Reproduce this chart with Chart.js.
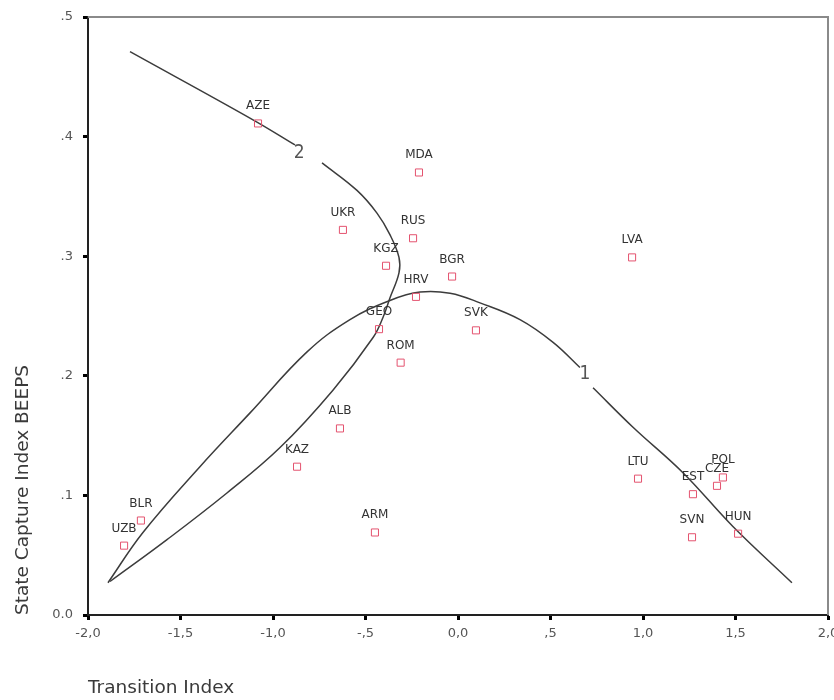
<!DOCTYPE html>
<html>
<head>
<meta charset="utf-8">
<script src="https://cdn.jsdelivr.net/npm/chart.js@4/dist/chart.umd.min.js"></script>
<style>
  html, body { margin: 0; padding: 0; background: #fff; }
  canvas { display: block; }
</style>
</head>
<body>
<canvas id="c" width="834" height="700"></canvas>
<script>
// ---- Data ----
const countryCodes = ['AZE','MDA','UKR','RUS','KGZ','BGR','LVA','HRV','GEO','SVK','ROM','ALB','KAZ','ARM','BLR','UZB','LTU','EST','CZE','POL','SVN','HUN'];
const transitionIndex = [-1.081,-0.211,-0.622,-0.243,-0.389,-0.032,0.941,-0.227,-0.427,0.097,-0.310,-0.638,-0.870,-0.449,-1.714,-1.805,0.973,1.270,1.400,1.432,1.265,1.514];
const stateCapture   = [0.411,0.370,0.322,0.315,0.292,0.283,0.299,0.266,0.239,0.238,0.211,0.156,0.124,0.069,0.079,0.058,0.114,0.101,0.108,0.115,0.065,0.068];

// fitted curve 1 (inverted U), null = gap for the curve label
const fit1X = [-1.892,-1.703,-1.395,-1.124,-0.816,-0.584,-0.368,-0.205,-0.043,0.119,0.335,0.514,0.659,0.700,0.730,0.946,1.216,1.486,1.805];
const fit1Y = [0.027,0.069,0.124,0.169,0.220,0.247,0.263,0.270,0.269,0.261,0.247,0.228,0.207,null,0.190,0.157,0.119,0.074,0.027];

// fitted curve 2 (sideways), null = gap for the curve label
const fit2X = [-1.773,-1.108,-0.881,-0.810,-0.735,-0.546,-0.438,-0.368,-0.319,-0.319,-0.368,-0.405,-0.459,-0.676,-0.962,-1.249,-1.573,-1.881];
const fit2Y = [0.471,0.414,0.393,null,0.378,0.355,0.336,0.318,0.299,0.286,0.265,0.249,0.232,0.188,0.140,0.102,0.063,0.028];

const curveLabels = ['1','2'];
const curveLabelX = [0.686,-0.859];
const curveLabelY = [0.2015,0.386];

const xTickValues = [-2,-1.5,-1,-0.5,0,0.5,1,1.5,2];
const xTickLabels = ['-2,0','-1,5','-1,0','-,5','0,0',',5','1,0','1,5','2,0'];
const yTickValues = [0,0.1,0.2,0.3,0.4,0.5];
const yTickLabels = ['0.0','.1','.2','.3','.4','.5'];

const xTitle = 'Transition Index';
const yTitle = 'State Capture Index BEEPS';

// ---- Build chart ----
Chart.defaults.font.family = "'DejaVu Sans', Verdana, sans-serif";
Chart.defaults.color = '#444';

const countryPoints = countryCodes.map((c, i) => ({x: transitionIndex[i], y: stateCapture[i]}));
const fit1 = fit1X.map((x, i) => ({x: x, y: fit1Y[i]}));
const fit2 = fit2X.map((x, i) => ({x: x, y: fit2Y[i]}));

function nearestLabel(values, labels, v) {
  for (let i = 0; i < values.length; i++) if (Math.abs(values[i] - v) < 1e-6) return labels[i];
  return '';
}

const framePlugin = {
  id: 'frame',
  beforeDatasetsDraw(chart) {
    const {ctx, chartArea: a} = chart;
    ctx.save();
    ctx.strokeStyle = '#8a8a8a';
    ctx.lineWidth = 2;
    ctx.beginPath();
    ctx.moveTo(a.left, a.top);
    ctx.lineTo(a.right, a.top);
    ctx.lineTo(a.right, a.bottom);
    ctx.stroke();
    ctx.restore();
  }
};

const labelPlugin = {
  id: 'pointLabels',
  afterDatasetsDraw(chart) {
    const {ctx} = chart;
    const meta = chart.getDatasetMeta(0);
    ctx.save();
    ctx.font = "12px 'DejaVu Sans', sans-serif";
    ctx.fillStyle = '#333';
    ctx.textAlign = 'center';
    ctx.textBaseline = 'alphabetic';
    meta.data.forEach((pt, i) => {
      ctx.fillText(countryCodes[i], pt.x, pt.y - 14);
    });
    const xs = chart.scales.x, ys = chart.scales.y;
    ctx.font = "300 19px 'Liberation Sans Narrow', 'DejaVu Sans Condensed', sans-serif";
    ctx.fillStyle = '#555';
    ctx.textBaseline = 'middle';
    curveLabels.forEach((t, i) => {
      ctx.fillText(t, xs.getPixelForValue(curveLabelX[i]), ys.getPixelForValue(curveLabelY[i]));
    });
    ctx.restore();
  }
};

new Chart(document.getElementById('c'), {
  type: 'scatter',
  data: {
    datasets: [
      {
        label: 'Countries',
        data: countryPoints,
        pointStyle: 'rect',
        pointRadius: 5,
        pointHoverRadius: 5,
        borderColor: '#e4536f',
        backgroundColor: 'rgba(0,0,0,0)',
        borderWidth: 1,
        order: 0
      },
      {
        label: 'Fit 1',
        data: fit1,
        showLine: true,
        pointRadius: 0,
        borderColor: '#3c3c3c',
        borderWidth: 1.5,
        tension: 0.4,
        spanGaps: false,
        fill: false,
        order: 1
      },
      {
        label: 'Fit 2',
        data: fit2,
        showLine: true,
        pointRadius: 0,
        borderColor: '#3c3c3c',
        borderWidth: 1.5,
        tension: 0.4,
        spanGaps: false,
        fill: false,
        order: 1
      }
    ]
  },
  options: {
    responsive: false,
    animation: false,
    layout: { padding: { top: 17, right: 6, left: 0, bottom: 0 } },
    plugins: { legend: { display: false }, tooltip: { enabled: false } },
    scales: {
      x: {
        type: 'linear',
        min: -2, max: 2,
        afterBuildTicks(scale) { scale.ticks = xTickValues.map(v => ({value: v})); },
        afterFit(scale) { scale.height = 85; scale.paddingRight = 0; scale.paddingLeft = 0; },
        ticks: {
          callback: (v) => nearestLabel(xTickValues, xTickLabels, v),
          font: { size: 13 },
          color: '#555',
          padding: 6,
          maxRotation: 0,
          autoSkip: false
        },
        grid: { display: true, drawOnChartArea: false, drawTicks: true, tickLength: 5, tickWidth: 3, tickColor: '#000' },
        border: { display: true, color: '#222', width: 2 },
        title: { display: true, text: xTitle, align: 'start', font: { size: 18.5 }, color: '#3a3a3a', padding: { top: 0, bottom: 1 } }
      },
      y: {
        type: 'linear',
        min: 0, max: 0.5,
        afterBuildTicks(scale) { scale.ticks = yTickValues.map(v => ({value: v})); },
        afterFit(scale) { scale.width = 88; scale.paddingTop = 0; scale.paddingBottom = 0; },
        ticks: {
          callback: (v) => nearestLabel(yTickValues, yTickLabels, v),
          font: { size: 13 },
          color: '#555',
          padding: 10,
          autoSkip: false
        },
        grid: { display: true, drawOnChartArea: false, drawTicks: true, tickLength: 5, tickWidth: 3, tickColor: '#000' },
        border: { display: true, color: '#222', width: 2 },
        title: { display: true, text: yTitle, align: 'start', font: { size: 18.5 }, color: '#3a3a3a', padding: { top: 12, bottom: 0 } }
      }
    }
  },
  plugins: [framePlugin, labelPlugin]
});
</script>
</body>
</html>
